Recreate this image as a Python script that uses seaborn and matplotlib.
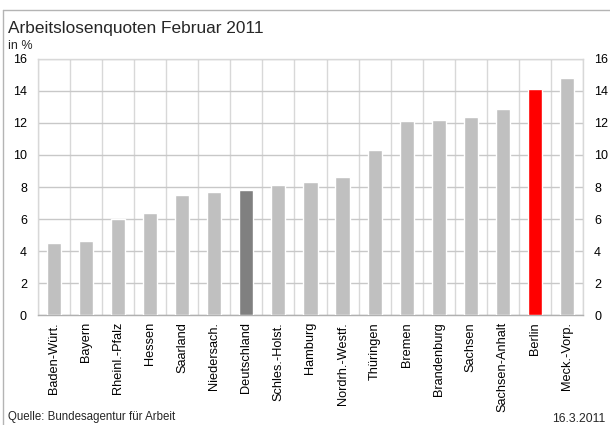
import matplotlib
matplotlib.use("Agg")
import matplotlib.pyplot as plt
from matplotlib.lines import Line2D
from matplotlib.ticker import MultipleLocator, FixedLocator
import seaborn as sns
import pandas as pd

# Unemployment rates by federal state, February 2011 (in %)
laender = ["Baden-Würt.", "Bayern", "Rheinl.-Pfalz", "Hessen", "Saarland",
           "Niedersach.", "Deutschland", "Schles.-Holst.", "Hamburg",
           "Nordrh.-Westf.", "Thüringen", "Bremen", "Brandenburg", "Sachsen",
           "Sachsen-Anhalt", "Berlin", "Meck.-Vorp."]
quoten = [4.5, 4.6, 6.0, 6.4, 7.5, 7.7, 7.8, 8.1, 8.3, 8.6, 10.3, 12.1,
          12.2, 12.4, 12.9, 14.1, 14.8]
y_ticks = [0, 2, 4, 6, 8, 10, 12, 14, 16]

# Colour per bar: national average dark grey, Berlin highlighted in red
farben = {name: "#c0c0c0" for name in laender}
farben["Deutschland"] = "#808080"
farben["Berlin"] = "#ff0000"

df = pd.DataFrame({"land": laender, "quote": quoten})

sns.set_theme(style="white")
plt.rcParams["font.family"] = ["Liberation Sans", "DejaVu Sans"]

fig = plt.figure(figsize=(6.1, 4.25), dpi=100)
ax = fig.add_axes([0.0623, 0.2588, 0.8934, 0.6024])

sns.barplot(data=df, x="land", y="quote", hue="land", palette=farben,
            order=laender, hue_order=laender, width=0.44, legend=False,
            saturation=1, ax=ax, zorder=3)

ax.set_xlim(-0.5, len(laender) - 0.5)
ax.set_ylim(0, 16)
ax.yaxis.set_major_locator(FixedLocator(y_ticks))
ax.xaxis.set_minor_locator(MultipleLocator(1, offset=0.5))
ax.grid(True, axis="y", which="major", color="#c8c8c8", linewidth=1.0, zorder=0)
ax.grid(True, axis="x", which="minor", color="#d8d8d8", linewidth=1.0, zorder=0)
ax.grid(False, axis="x", which="major")
ax.set_axisbelow(True)

for side in ["left", "right", "top"]:
    ax.spines[side].set_color("#d8d8d8")
    ax.spines[side].set_linewidth(1.0)
ax.spines["bottom"].set_color("#b0b0b0")
ax.spines["bottom"].set_linewidth(1.0)

ax.set_xlabel("")
ax.set_ylabel("")
ax.tick_params(axis="x", which="both", length=0, pad=5, labelsize=9.2,
               labelrotation=90, colors="black")
ax.tick_params(axis="y", which="both", length=0, labelsize=9,
               labelleft=True, labelright=True, left=False, right=False,
               pad=8, colors="black")
for lbl in ax.get_xticklabels():
    lbl.set_verticalalignment("top")

# Titles and footnotes
fig.text(8 / 610, 1 - 28 / 425, "Arbeitslosenquoten Februar 2011",
         fontsize=12.4, ha="left", va="center")
fig.text(8 / 610, 1 - 46 / 425, "in %", fontsize=9, ha="left", va="center")
fig.text(8 / 610, 1 - 417 / 425, "Quelle: Bundesagentur für Arbeit",
         fontsize=8.3, ha="left", va="center")
fig.text(605 / 610, 1 - 419 / 425, "16.3.2011", fontsize=8.8,
         ha="right", va="center")

# Outer frame lines (top and left)
fig.add_artist(Line2D([3 / 610, 1], [1 - 10 / 425, 1 - 10 / 425],
                      transform=fig.transFigure, color="#b4b4b4", linewidth=1.0))
fig.add_artist(Line2D([3 / 610, 3 / 610], [0, 1 - 10 / 425],
                      transform=fig.transFigure, color="#b4b4b4", linewidth=1.0))

fig.savefig("out.png", dpi=100, facecolor="white")
